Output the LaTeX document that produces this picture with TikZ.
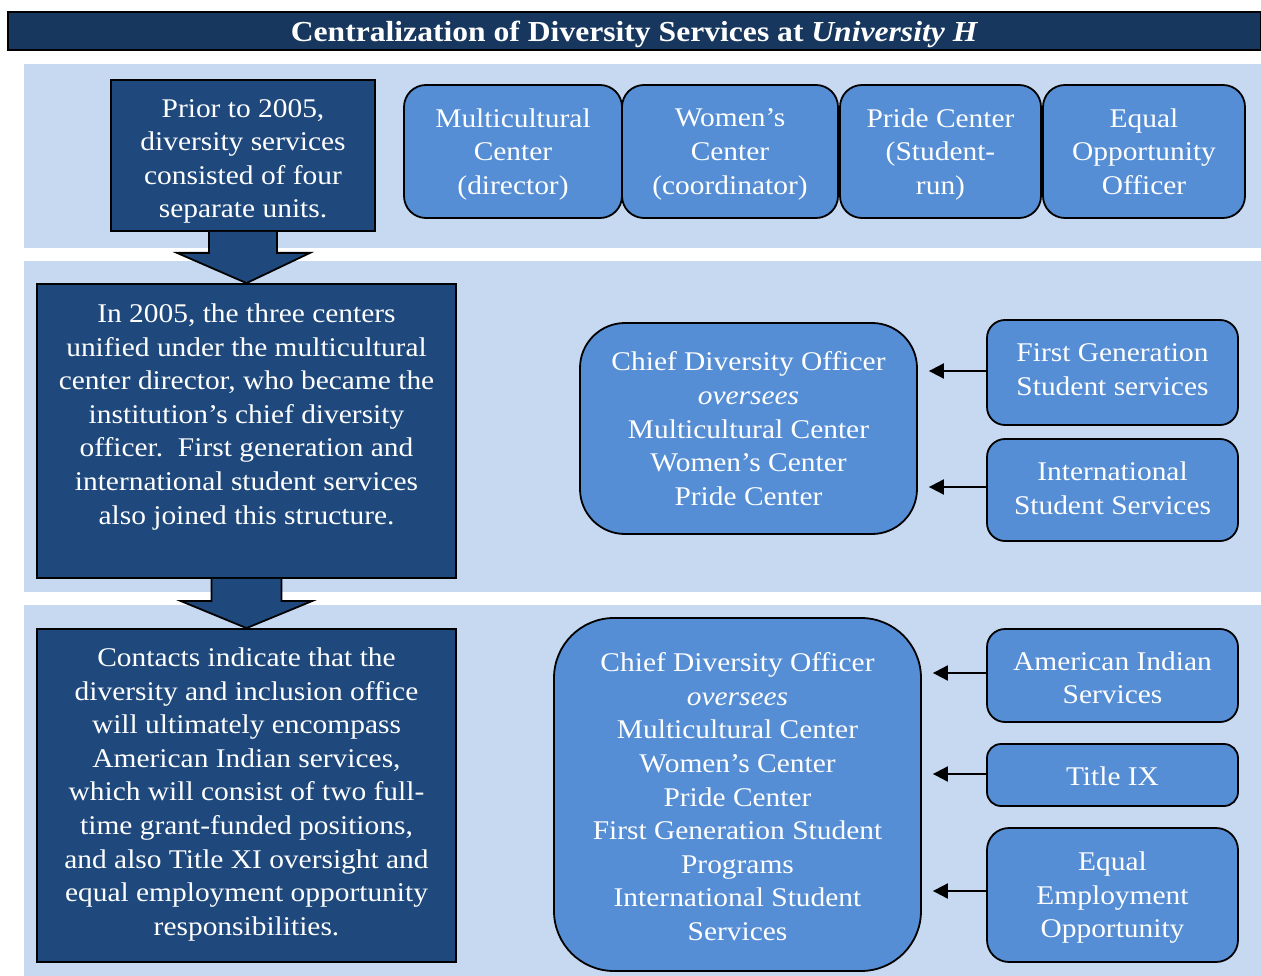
\documentclass[tikz,border=0pt]{standalone}
\usepackage{fontspec}
\setmainfont{Liberation Serif}[FakeStretch=1.09]
\usetikzlibrary{arrows.meta,calc}
\definecolor{titleblue}{HTML}{17375E}
\definecolor{bandblue}{HTML}{C6D9F1}
\definecolor{darkblue}{HTML}{1F497D}
\definecolor{unitblue}{HTML}{558ED5}
% invisible rule that gives the first and last text lines a fixed height and depth
\newcommand\linestrut{\rule[-10pt]{0pt}{41.5pt}}
\begin{document}
\begin{tikzpicture}[x=1pt,y=-1pt,
  txt/.style={text=white,align=center,inner sep=0pt,font=\fontsize{27}{33.6}\selectfont,
    execute at begin node=\linestrut,execute at end node=\linestrut},
  darkbox/.style={draw=black,line width=1.8pt,fill=darkblue,inner sep=0pt},
  unit/.style={draw=black,line width=1.8pt,fill=unitblue,inner sep=0pt,rounded corners=20pt,minimum width=251pt},
  hub/.style={draw=black,line width=1.8pt,fill=unitblue,inner sep=0pt},
  feed/.style={line width=2pt,-{Triangle[length=15pt,width=15pt]},shorten >=11pt},
  blockarrow/.style={fill=darkblue},
  blockedge/.style={draw=black,line width=1.8pt,line join=miter}
]
\useasboundingbox (0,0) rectangle (1261,976);

% title bar
\node[draw=black,line width=2pt,fill=titleblue,minimum width=1253pt,minimum height=38pt,inner sep=0pt,
  text depth=0pt,text=white,font=\fontsize{29}{34}\selectfont\bfseries] (title) at (634.5,31)
  {Centralization of Diversity Services at \textit{University H}};

% background bands
\fill[bandblue] (24,64) rectangle (1261,248);
\fill[bandblue] (24,261) rectangle (1261,592);
\fill[bandblue] (24,605) rectangle (1261,976);

% stage 1: before 2005
\node[darkbox,minimum width=264pt,minimum height=151pt] (prior) at (243,155.5) {};
\node[txt] (priortxt) at ($(prior)+(0,8)$)
  {Prior to 2005,\\diversity services\\consisted of four\\separate units.};

\node[unit,rounded corners=22pt,minimum width=218pt,minimum height=133pt] (mc) at (513,151.5) {};
\node[unit,rounded corners=22pt,minimum width=216pt,minimum height=133pt] (wc) at (730,151.5) {};
\node[unit,rounded corners=22pt,minimum width=201pt,minimum height=133pt] (pc) at (940.5,151.5) {};
\node[unit,rounded corners=22pt,minimum width=202pt,minimum height=133pt] (eo) at (1144,151.5) {};
\node[txt] (mctxt) at ($(mc)+(0,5)$) {Multicultural\\Center\\(director)};
\node[txt] (wctxt) at ($(wc)+(0,5)$) {Women's\\Center\\(coordinator)};
\node[txt] (pctxt) at ($(pc)+(0,5)$) {Pride Center\\(Student-\\run)};
\node[txt] (eotxt) at ($(eo)+(0,5)$) {Equal\\Opportunity\\Officer};

% stage 2: 2005
\node[darkbox,minimum width=419pt,minimum height=294pt] (mid) at (246.5,431) {};
\node[txt] (midtxt) at ($(mid)+(0,-12)$)
  {In 2005, the three centers\\unified under the multicultural\\center director, who became the\\institution's chief diversity\\officer.\ \ First generation and\\international student services\\also joined this structure.};

\node[hub,rounded corners=45pt,minimum width=337pt,minimum height=211pt] (cdoA) at (748.5,428.5) {};
\node[txt] (cdoAtxt) at ($(cdoA)+(0,5)$)
  {Chief Diversity Officer\\\textit{oversees}\\Multicultural Center\\Women's Center\\Pride Center};
\node[unit,rounded corners=18pt,minimum height=105pt] (fg) at (1112.5,372.5) {};
\node[txt] (fgtxt) at ($(fg)+(0,2)$) {First Generation\\Student services};
\node[unit,rounded corners=18pt,minimum height=102pt] (intl) at (1112.5,490) {};
\node[txt] (intltxt) at ($(intl)+(0,3)$) {International\\Student Services};

% stage 3: planned
\node[darkbox,minimum width=419pt,minimum height=333pt] (plan) at (246.5,795.5) {};
\node[txt] (plantxt) at ($(plan)+(0,1)$)
  {Contacts indicate that the\\diversity and inclusion office\\will ultimately encompass\\American Indian services,\\which will consist of two full-\\time grant-funded positions,\\and also Title XI oversight and\\equal employment opportunity\\responsibilities.};

\node[hub,rounded corners=60pt,minimum width=367pt,minimum height=353pt] (cdoB) at (737.5,794.5) {};
\node[txt] (cdoBtxt) at ($(cdoB)+(0,7)$)
  {Chief Diversity Officer\\\textit{oversees}\\Multicultural Center\\Women's Center\\Pride Center\\First Generation Student\\Programs\\International Student\\Services};
\node[unit,rounded corners=18pt,minimum height=93pt] (ai) at (1112.5,675.5) {};
\node[txt] (aitxt) at ($(ai)+(0,7)$) {American Indian\\Services};
\node[unit,rounded corners=14pt,minimum height=62pt] (t9) at (1112.5,775) {};
\node[txt] (t9txt) at (t9) {Title IX};
\node[unit,rounded corners=22pt,minimum height=134pt] (eeo) at (1112.5,895) {};
\node[txt] (eeotxt) at ($(eeo)+(0,5)$) {Equal\\Employment\\Opportunity};

% feeder arrows: start points on the feeder boxes
\coordinate (fgout) at ($(fg.west)+(0,-1.5)$);
\coordinate (intlout) at ($(intl.west)+(0,-3)$);
\coordinate (aiout) at ($(ai.west)+(0,-2.5)$);
\coordinate (t9out) at ($(t9.west)+(0,-1)$);
\coordinate (eeoout) at ($(eeo.west)+(0,-4)$);
\draw[feed] (fgout) -- (fgout -| cdoA.east);
\draw[feed] (intlout) -- (intlout -| cdoA.east);
\draw[feed] (aiout) -- (aiout -| cdoB.east);
\draw[feed] (t9out) -- (t9out -| cdoB.east);
\draw[feed] (eeoout) -- (eeoout -| cdoB.east);

% block arrows between stages
\fill[blockarrow] ($(prior.south)+(-34,0)$) -- ++(0,21) -- ++(-32,0) -- (mid.north) -- ($(prior.south)+(67,21)$) -- ++(-33,0) -- ++(0,-21) -- cycle;
\draw[blockedge] ($(prior.south)+(-34,0)$) -- ++(0,21) -- ++(-32,0) -- (mid.north) -- ($(prior.south)+(67,21)$) -- ++(-33,0) -- ++(0,-21);
\fill[blockarrow] ($(mid.south)+(-35,0)$) -- ++(0,22) -- ++(-31,0) -- (plan.north) -- ($(mid.south)+(66,22)$) -- ++(-31,0) -- ++(0,-22) -- cycle;
\draw[blockedge] ($(mid.south)+(-35,0)$) -- ++(0,22) -- ++(-31,0) -- (plan.north) -- ($(mid.south)+(66,22)$) -- ++(-31,0) -- ++(0,-22);
\end{tikzpicture}
\end{document}
